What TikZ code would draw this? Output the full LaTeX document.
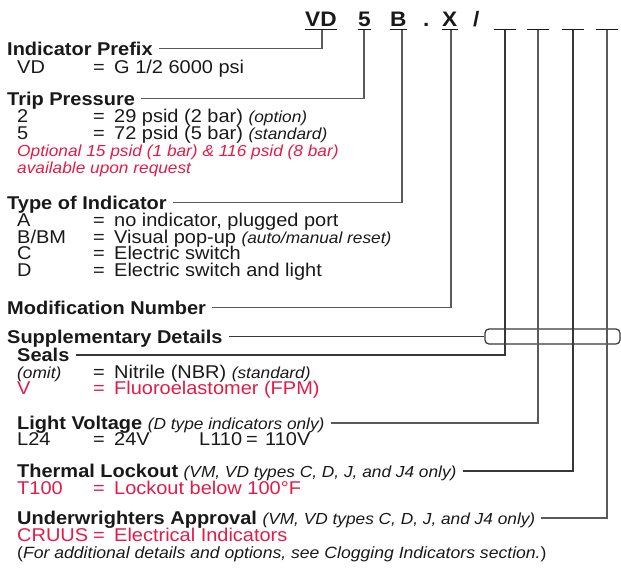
\documentclass[tikz,border=0pt]{standalone}
\usepackage{fontspec}
\setmainfont{Liberation Sans}[FakeStretch=1.08]
\definecolor{ered}{RGB}{226,28,72}
\definecolor{ink}{RGB}{25,25,25}
\definecolor{leadc}{RGB}{90,90,90}
\definecolor{darkc}{RGB}{55,55,55}
\newcommand\ptxt{\fontsize{18.5}{20}\selectfont}
\newcommand\stxt{\fontsize{16}{18}\selectfont\mdseries\itshape}
\newcommand\rowtxt[2]{\makebox[76pt][l]{#1}\makebox[21pt][l]{=}#2}
\tikzset{
  txt/.style={anchor=base west, inner sep=0pt, text=ink, font=\ptxt, text height=13pt, text depth=3pt},
  head/.style={txt, font=\ptxt\bfseries},
  code/.style={anchor=base west, inner sep=0pt, text=ink, font=\fontsize{21}{24}\selectfont\bfseries},
  lead/.style={draw=leadc, line width=1.2pt},
  blank/.style={draw=darkc, line width=1.4pt},
  uline/.style={draw=ink, line width=1.4pt},
}
\begin{document}
\begin{tikzpicture}[x=1pt,y=-1pt]
\useasboundingbox (0,0) rectangle (621,571);
% code line
\node[code] (cVD) at (305,26.5) {VD};
\node[code] (c5) at (358,26.5) {5};
\node[code] (cB) at (390,26.5) {B};
\node[code] (cDot) at (423,26.5) {.};
\node[code] (cX) at (442,26.5) {X};
\node[code] (cSl) at (473,26.5) {/};
\foreach \n in {cVD,c5,cB,cX}
  \draw[uline] ([yshift=-3pt]\n.base west) -- ([yshift=-3pt]\n.base east);
\coordinate (uVD) at (322,29.5);
\coordinate (u5) at (364,29.5);
\coordinate (uB) at (402,29.5);
\coordinate (uX) at (451,29.5);
\coordinate (b1) at (505,29.5);
\coordinate (b2) at (538,29.5);
\coordinate (b3) at (573,29.5);
\coordinate (b4) at (607,29.5);
\foreach \n in {b1,b2,b3,b4}
  \draw[uline] ([xshift=-11.5pt]\n) -- ([xshift=10.5pt]\n);

% headings and rows
\node[head] (hIP) at (7,55) {Indicator Prefix};
\node[txt] (r1) at (17,73) {\rowtxt{VD}{G 1/2 6000 psi}};
\node[head] (hTP) at (7,105) {Trip Pressure};
\node[txt] (r2) at (17,122) {\rowtxt{2}{29 psid (2 bar) {\stxt(option)}}};
\node[txt] (r3) at (17,139) {\rowtxt{5}{72 psid (5 bar) {\stxt(standard)}}};
\node[txt, text=ered, font=\stxt] (r4) at (17,156) {Optional 15 psid (1 bar) \& 116 psid (8 bar)};
\node[txt, text=ered, font=\stxt] (r5) at (17,173) {available upon request};
\node[head] (hTI) at (7,209) {Type of Indicator};
\node[txt] (r6) at (17,226) {\rowtxt{A}{no indicator, plugged port}};
\node[txt] (r7) at (17,243) {\rowtxt{B/BM}{Visual pop-up {\stxt(auto/manual reset)}}};
\node[txt] (r8) at (17,259) {\rowtxt{C}{Electric switch}};
\node[txt] (r9) at (17,276) {\rowtxt{D}{Electric switch and light}};
\node[head] (hMN) at (7,314) {Modification Number};
\node[head] (hSD) at (7,343) {Supplementary Details};
\node[head] (hSe) at (17,361) {Seals};
\node[txt] (r10) at (17,378) {\rowtxt{\stxt(omit)}{Nitrile (NBR) {\stxt(standard)}}};
\node[txt, text=ered] (r11) at (17,394) {\rowtxt{V}{Fluoroelastomer (FPM)}};
\node[head] (hLV) at (17,429) {Light Voltage {\stxt(D type indicators only)}};
\node[txt] (r12) at (17,445) {\rowtxt{L24}{\makebox[85pt][l]{24V}\makebox[47pt][l]{L110}\makebox[19pt][l]{=}110V}};
\node[head] (hTL) at (17,477) {Thermal Lockout {\stxt(VM, VD types C, D, J, and J4 only)}};
\node[txt, text=ered] (r13) at (17,494) {\rowtxt{T100}{Lockout below 100°F}};
\node[head] (hUA) at (17,524) {Underwrighters Approval {\stxt(VM, VD types C, D, J, and J4 only)}};
\node[txt, text=ered] (r14) at (17,541) {\rowtxt{CRUUS}{Electrical Indicators}};
\node[txt, font=\fontsize{16.3}{18}\selectfont] (r15) at (17,558) {({\itshape For additional details and options, see Clogging Indicators section.})};

% bracket box
\node[draw=darkc, line width=1.2pt, rounded corners=4pt, minimum width=135pt, minimum height=15pt, inner sep=0pt] (box) at (552.5,336.5) {};

% connectors
\draw[lead] ([xshift=6pt,yshift=6.5pt]hIP.base east) -| (uVD);
\draw[lead] ([xshift=6pt,yshift=6.5pt]hTP.base east) -| (u5);
\draw[lead] ([xshift=6pt,yshift=6.5pt]hTI.base east) -| (uB);
\draw[lead] ([xshift=6pt,yshift=6.5pt]hMN.base east) -| (uX);
\draw[blank] ([xshift=6pt,yshift=6.5pt]hSD.base east) -- (box.west);
\draw[blank] ([xshift=6pt,yshift=6pt]hSe.base east) -| (b1);
\draw[lead] ([xshift=6pt,yshift=6pt]hLV.base east) -| (b2);
\draw[blank] ([xshift=6pt,yshift=6pt]hTL.base east) -| (b3);
\draw[lead] ([xshift=6pt,yshift=6pt]hUA.base east) -| (b4);
\end{tikzpicture}
\end{document}
